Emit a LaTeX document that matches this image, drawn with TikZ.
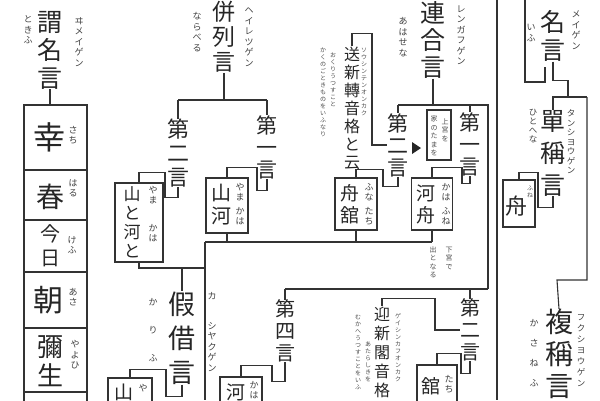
\documentclass[tikz,border=0pt]{standalone}
\usepackage{fontspec}
\newfontfamily\cjk{Noto Sans CJK JP}
\tikzset{
  ink/.style={draw=black!80, line width=1.1pt},
  tbox/.style={draw=black!80, line width=1.1pt, inner sep=0pt},
  head/.style={font=\cjk\fontsize{25}{28}\selectfont, align=center, inner sep=0pt, text=black!85},
  mid/.style={font=\cjk\fontsize{21}{22}\selectfont, align=center, inner sep=0pt, text=black!85},
  word/.style={font=\cjk\fontsize{19}{22}\selectfont, align=center, inner sep=0pt, text=black!85},
  kana/.style={font=\cjk\fontsize{9}{10.5}\selectfont, align=center, inner sep=0pt, text=black!75},
  note/.style={font=\cjk\fontsize{6}{7}\selectfont, align=center, inner sep=0pt, text=black!70},
}
\begin{document}
\begin{tikzpicture}[x=1pt, y=-1pt]
\useasboundingbox (0,0) rectangle (600,400);
\clip (0,0) rectangle (600,400);

% left column
\node [head] (imei) at (50,50) {謂\\名\\言};
\node [kana] at (28,30) {と\\き\\ふ};
\node [kana] at (79,42) {ヰ\\メ\\イ\\ゲ\\ン};
\node [tbox, minimum width=63, minimum height=65] (sachi) at (55.5,137.5) {};
\node [tbox, minimum width=63, minimum height=50] (haru) at (55.5,195) {};
\node [tbox, minimum width=63, minimum height=52] (kefu) at (55.5,246) {};
\node [tbox, minimum width=63, minimum height=56] (asa) at (55.5,300) {};
\node [tbox, minimum width=63, minimum height=64] (yayoi) at (55.5,360) {};
\node [tbox, minimum width=63, minimum height=36] (last) at (55.5,410) {};
\node [head, font=\cjk\fontsize{32}{34}\selectfont] at (50,137) {幸};
\node [kana] at (73,135) {さ\\ち};
\node [head, font=\cjk\fontsize{28}{30}\selectfont] at (50,197) {春};
\node [kana] at (73,188) {は\\る};
\node [word, font=\cjk\fontsize{20}{24}\selectfont] at (50,246) {今\\日};
\node [kana] at (72,245) {け\\ふ};
\node [head, font=\cjk\fontsize{30}{32}\selectfont] at (48,300) {朝};
\node [kana] at (73,297) {あ\\さ};
\node [head, font=\cjk\fontsize{26}{29}\selectfont] at (50,361) {彌\\生};
\node [kana] at (75,355) {や\\よ\\ひ};
\draw [ink] (imei.south) -- (imei.south |- sachi.north);

% heiretsu
\node [head, font=\cjk\fontsize{23}{25}\selectfont] (heiretsu) at (224,37) {併\\列\\言};
\node [kana] at (197,32) {な\\ら\\べ\\る};
\node [kana] at (249,37) {ヘ\\イ\\レ\\ツ\\ゲ\\ン};
\coordinate (hbar) at (222,100);
\node [mid, font=\cjk\fontsize{22}{24}\selectfont] (hdai2) at (178,153) {第\\二\\言};
\node [mid] (hdai1) at (267,147) {第\\一\\言};
\draw [ink] (heiretsu.south) -- (heiretsu.south |- hbar);
\draw [ink] (hdai2.north |- hbar) -- (hdai1.north |- hbar);
\draw [ink] (hdai2.north |- hbar) -- (hdai2.north);
\draw [ink] (hdai1.north |- hbar) -- (hdai1.north);
\node [tbox, minimum width=48, minimum height=79] (ytk) at (139,222.5) {};
\node [word, font=\cjk\fontsize{17}{19}\selectfont] at (132,222) {山\\と\\河\\と};
\node [kana] at (153,195) {や\\ま};
\node [kana] at (153,233) {か\\は};
\node [tbox, minimum width=42, minimum height=55] (yamakawa) at (227,205.5) {};
\node [word, font=\cjk\fontsize{20}{23}\selectfont] at (221,205) {山\\河};
\node [kana] at (240,192) {や\\ま};
\node [kana] at (240,216) {か\\は};
\draw [ink] (hdai2.south) -- ++(0,10) -| ++(-13,-25) -| (ytk.north);
\draw [ink] (hdai1.south) -- ++(0,12) -| ++(-10,-23) -| (yamakawa.north);

% rengo
\node [head, font=\cjk\fontsize{25}{27}\selectfont] (rengo) at (433,40) {連\\合\\言};
\node [kana] at (403,37) {あ\\は\\せ\\な};
\node [kana] at (461,35) {レ\\ン\\ガ\\フ\\ゲ\\ン};
\coordinate (tbar) at (488,105);
\coordinate (rbar) at (488,289);
\node [mid] (rdai2) at (398,145) {第\\二\\言};
\node [mid] (rdai1) at (470,144) {第\\一\\言};
\draw [ink] (rengo.south) -- (rengo.south |- tbar);
\draw [ink] (rdai2.north |- tbar) -- (tbar) -- (rbar);
\draw [ink] (rdai2.north |- tbar) -- (rdai2.north);
\draw [ink] (rdai1.north |- tbar) -- (rdai1.north);
\node [tbox, minimum width=42, minimum height=52] (funadate) at (356,204) {};
\node [word] at (350,204) {舟\\舘};
\node [kana] at (369,192) {ふ\\な};
\node [kana] at (369,216) {た\\ち};
\node [tbox, minimum width=41, minimum height=52] (kawafune) at (432,204) {};
\node [word] at (426,204) {河\\舟};
\node [kana] at (446,192) {か\\は};
\node [kana] at (446,216) {ふ\\ね};
\draw [ink] (rdai2.south) -- ++(0,10) -| ++(-15,-17) -| (funadate.north);
\draw [ink] (rdai1.south) -- ++(0,8) -| ++(-8,-16) -| (kawafune.north);
\node [head, font=\cjk\fontsize{16}{18}\selectfont] (sokaku) at (352,108) {送\\新\\轉\\音\\格\\と\\云};
\node [note] at (364,82) {ソ\\ウ\\シ\\ン\\テ\\ン\\オ\\ン\\カ\\ク};
\node [note] at (323,92) {か\\く\\の\\ご\\と\\き\\も\\の\\を\\い\\ふ\\な\\り};
\node [note] at (333,80) {お\\く\\り\\う\\つ\\す\\こ\\と};
\draw [ink] (sokaku.north) |- ++(20,-13) |- (rdai2.west);
\node [tbox, minimum width=24, minimum height=50] (ubox) at (439,135) {};
\node [note, font=\cjk\fontsize{7}{8.5}\selectfont] at (445,130) {上\\宮\\を};
\node [note, font=\cjk\fontsize{7}{8.5}\selectfont] at (434,136) {家\\の\\た\\ま\\を};
\fill [black!85] (412,142) -- (421,148) -- (412,154) -- cycle;
\node [note, font=\cjk\fontsize{7}{8.5}\selectfont] at (449,258) {下\\宮\\で};
\node [note, font=\cjk\fontsize{7}{8.5}\selectfont] at (433,262) {出\\と\\な\\る};

% middle lines
\coordinate (mbar) at (205,242);
\coordinate (lbot) at (205,400);
\coordinate (kbar) at (205,268);
\draw [ink] (yamakawa.south) -- (yamakawa.south |- mbar);
\draw [ink] (mbar) -- (kawafune.south |- mbar);
\draw [ink] (funadate.south) -- (funadate.south |- mbar);
\draw [ink] (kawafune.south) -- (kawafune.south |- mbar);
\draw [ink] (mbar) -- (lbot);

% kashaku
\node [head, font=\cjk\fontsize{27}{34}\selectfont] (kashaku) at (182,338) {假\\借\\言};
\node [kana, font=\cjk\fontsize{9}{28}\selectfont] at (153,330) {か\\り\\ふ};
\node [kana] at (212,296) {カ};
\node [kana] at (212,347) {シ\\ヤ\\ク\\ゲ\\ン};
\draw [ink] (ytk.south) -- (ytk.south |- kbar) -- (kbar);
\draw [ink] (kashaku.north |- kbar) -- (kashaku.north);
\node [tbox, minimum width=44, minimum height=34] (yamabox) at (130,395) {};
\node [word] at (124,392) {山};
\node [kana] at (143,388) {や};
\draw [ink] (kashaku.south) -- ++(0,12) -| ++(-16,-27) -| (yamabox.north);
\node [mid, font=\cjk\fontsize{20}{22}\selectfont] (kdai4) at (285,331) {第\\四\\言};
\node [mid, font=\cjk\fontsize{20}{22}\selectfont] (kdai2) at (470,330) {第\\二\\言};
\draw [ink] (kdai4.north |- rbar) -- (rbar);
\draw [ink] (kdai4.north |- rbar) -- (kdai4.north);
\draw [ink] (kdai2.north |- rbar) -- (kdai2.north);
\node [tbox, minimum width=42, minimum height=32] (kawabox) at (241,393) {};
\node [word] at (236,392) {河};
\node [kana] at (254,390) {か\\は};
\draw [ink] (kdai4.south) -- ++(0,19) -| ++(-13,-16) -| (kawabox.north);
\node [tbox, minimum width=40, minimum height=44] (tachibox) at (437,387) {};
\node [word] at (431,386) {舘};
\node [kana] at (449,384) {た\\ち};
\draw [ink] (kdai2.south) -- ++(0,12) -| ++(-9,-20) -| (tachibox.north);
\node [head, font=\cjk\fontsize{16}{19}\selectfont] (geikaku) at (382,352) {迎\\新\\閣\\音\\格};
\node [note] at (398,348) {ゲ\\イ\\シ\\ン\\カ\\フ\\オ\\ン\\カ\\ク};
\node [note] at (358,352) {む\\か\\へ\\う\\つ\\す\\こ\\と\\を\\い\\ふ};
\node [note] at (368,362) {あ\\た\\ら\\し\\き\\を};
\draw [ink] (geikaku.north) |- ++(53,-8) |- (kdai2.west);

% right column
\coordinate (vtop) at (497,0);
\coordinate (vbot) at (497,400);
\draw [ink] (vtop) -- (vbot);
\node [head, font=\cjk\fontsize{25}{28}\selectfont] (meigen) at (553,36) {名\\言};
\node [kana] at (531,33) {い\\ふ};
\node [kana] at (576,30) {メ\\イ\\ゲ\\ン};
\coordinate (mtop) at (525,0);
\coordinate (mbrk) at (545,67);
\draw [ink] (mtop) |- ++(20,82) -- (mbrk);
\draw [ink] (meigen.south) |- ++(15,19) -- ++(0,15);
\node [head, font=\cjk\fontsize{25}{32}\selectfont] (tansho) at (553,153) {單\\稱\\言};
\node [kana, font=\cjk\fontsize{8.5}{9}\selectfont] at (533,126) {ひ\\と\\へ\\な};
\node [kana, font=\cjk\fontsize{8.5}{9.5}\selectfont] at (571,142) {タ\\ン\\シ\\ヨ\\ウ\\ゲ\\ン};
\coordinate (sbarR) at (587,97);
\draw [ink] (tansho.north) |- (sbarR);
\node [tbox, minimum width=32, minimum height=47] (fune) at (519,203.5) {};
\node [word, font=\cjk\fontsize{22}{24}\selectfont] at (516,206) {舟};
\node [note] at (530,192) {ふ\\ね};
\draw [ink] (fune.north) -- ++(0,-7) -| ++(19,35) -| (tansho.south);
\node [head, font=\cjk\fontsize{28}{32}\selectfont] (fukusho) at (559,354) {複\\稱\\言};
\node [kana, font=\cjk\fontsize{9}{20}\selectfont] at (534,353) {か\\さ\\ね\\ふ};
\node [kana, font=\cjk\fontsize{8.5}{11}\selectfont] at (581,351) {フ\\ク\\シ\\ヨ\\ウ\\ゲ\\ン};
\coordinate (fbend) at (557,280);
\draw [ink] (sbarR) |- (fbend) -- (fukusho.north);
\end{tikzpicture}
\end{document}
